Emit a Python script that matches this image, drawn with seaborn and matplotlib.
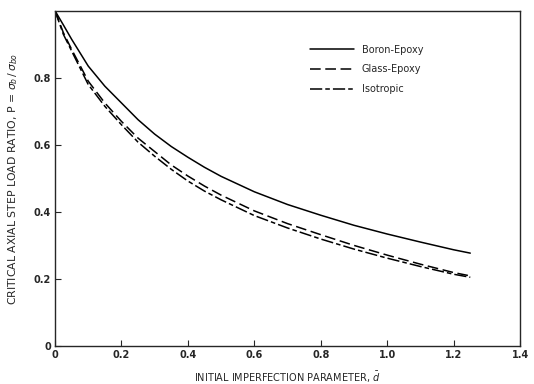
import numpy as np
import pandas as pd
import matplotlib
matplotlib.use('Agg')
import matplotlib.pyplot as plt
import seaborn as sns

# imperfection parameter d-bar
d_bar = [0, 0.025, 0.05, 0.1, 0.15, 0.2, 0.25, 0.3, 0.35, 0.4, 0.45, 0.5, 0.6, 0.7, 0.8, 0.9, 1.0, 1.1, 1.2, 1.25]

# load ratio
boron_epoxy = [1.0, 0.958, 0.915, 0.835, 0.775, 0.725, 0.675, 0.632, 0.595, 0.563, 0.533, 0.506, 0.46, 0.422, 0.39, 0.36, 0.334, 0.31, 0.287, 0.277]
glass_epoxy = [1.0, 0.935, 0.885, 0.79, 0.725, 0.67, 0.62, 0.58, 0.54, 0.507, 0.477, 0.45, 0.403, 0.365, 0.332, 0.3, 0.271, 0.244, 0.219, 0.209]
isotropic   = [1.0, 0.93, 0.88, 0.78, 0.715, 0.66, 0.608, 0.566, 0.527, 0.492, 0.462, 0.436, 0.389, 0.352, 0.319, 0.289, 0.262, 0.237, 0.214, 0.205]

series = ['Boron-Epoxy', 'Glass-Epoxy', 'Isotropic']

df = pd.DataFrame({
    'd': d_bar * 3,
    'P': boron_epoxy + glass_epoxy + isotropic,
    'material': [s for s in series for _ in d_bar],
})

sns.set_style('ticks')
plt.rcParams['font.family'] = ['DejaVu Sans']

fig = plt.figure(figsize=(5.34, 3.84), dpi=100)
ax = fig.add_axes([0.103, 0.099, 0.871, 0.873])

sns.lineplot(data=df, x='d', y='P', hue='material', style='material',
             palette=['black'] * 3,
             dashes={'Boron-Epoxy': '', 'Glass-Epoxy': (7, 3), 'Isotropic': (8, 2, 3, 2)},
             linewidth=1.1, ax=ax, legend=True)

ax.set_xlim(0, 1.4)
ax.set_ylim(0, 1.0)
ax.set_xticks([0, 0.2, 0.4, 0.6, 0.8, 1.0, 1.2, 1.4])
ax.set_xticklabels(['0', '0.2', '0.4', '0.6', '0.8', '1.0', '1.2', '1.4'])
ax.set_yticks([0, 0.2, 0.4, 0.6, 0.8])
ax.set_yticklabels(['0', '0.2', '0.4', '0.6', '0.8'])
ax.tick_params(direction='in', length=4, width=0.8, labelsize=7, pad=3)
for lbl in ax.get_xticklabels() + ax.get_yticklabels():
    lbl.set_fontweight('bold')
for sp in ax.spines.values():
    sp.set_visible(True)
    sp.set_linewidth(1.0)

ax.set_xlabel(r'INITIAL IMPERFECTION PARAMETER, $\bar{d}$', fontsize=7, labelpad=7)
ax.set_ylabel(r'CRITICAL AXIAL STEP LOAD RATIO, P = $\sigma_b\,/\,\sigma_{bo}$', fontsize=7.8, labelpad=10)

leg = ax.legend(loc='upper left', bbox_to_anchor=(0.53, 0.925), frameon=False,
                fontsize=7, handlelength=4.5, labelspacing=1.0, title=None)

fig.savefig('out.png', dpi=100)
plt.close()
